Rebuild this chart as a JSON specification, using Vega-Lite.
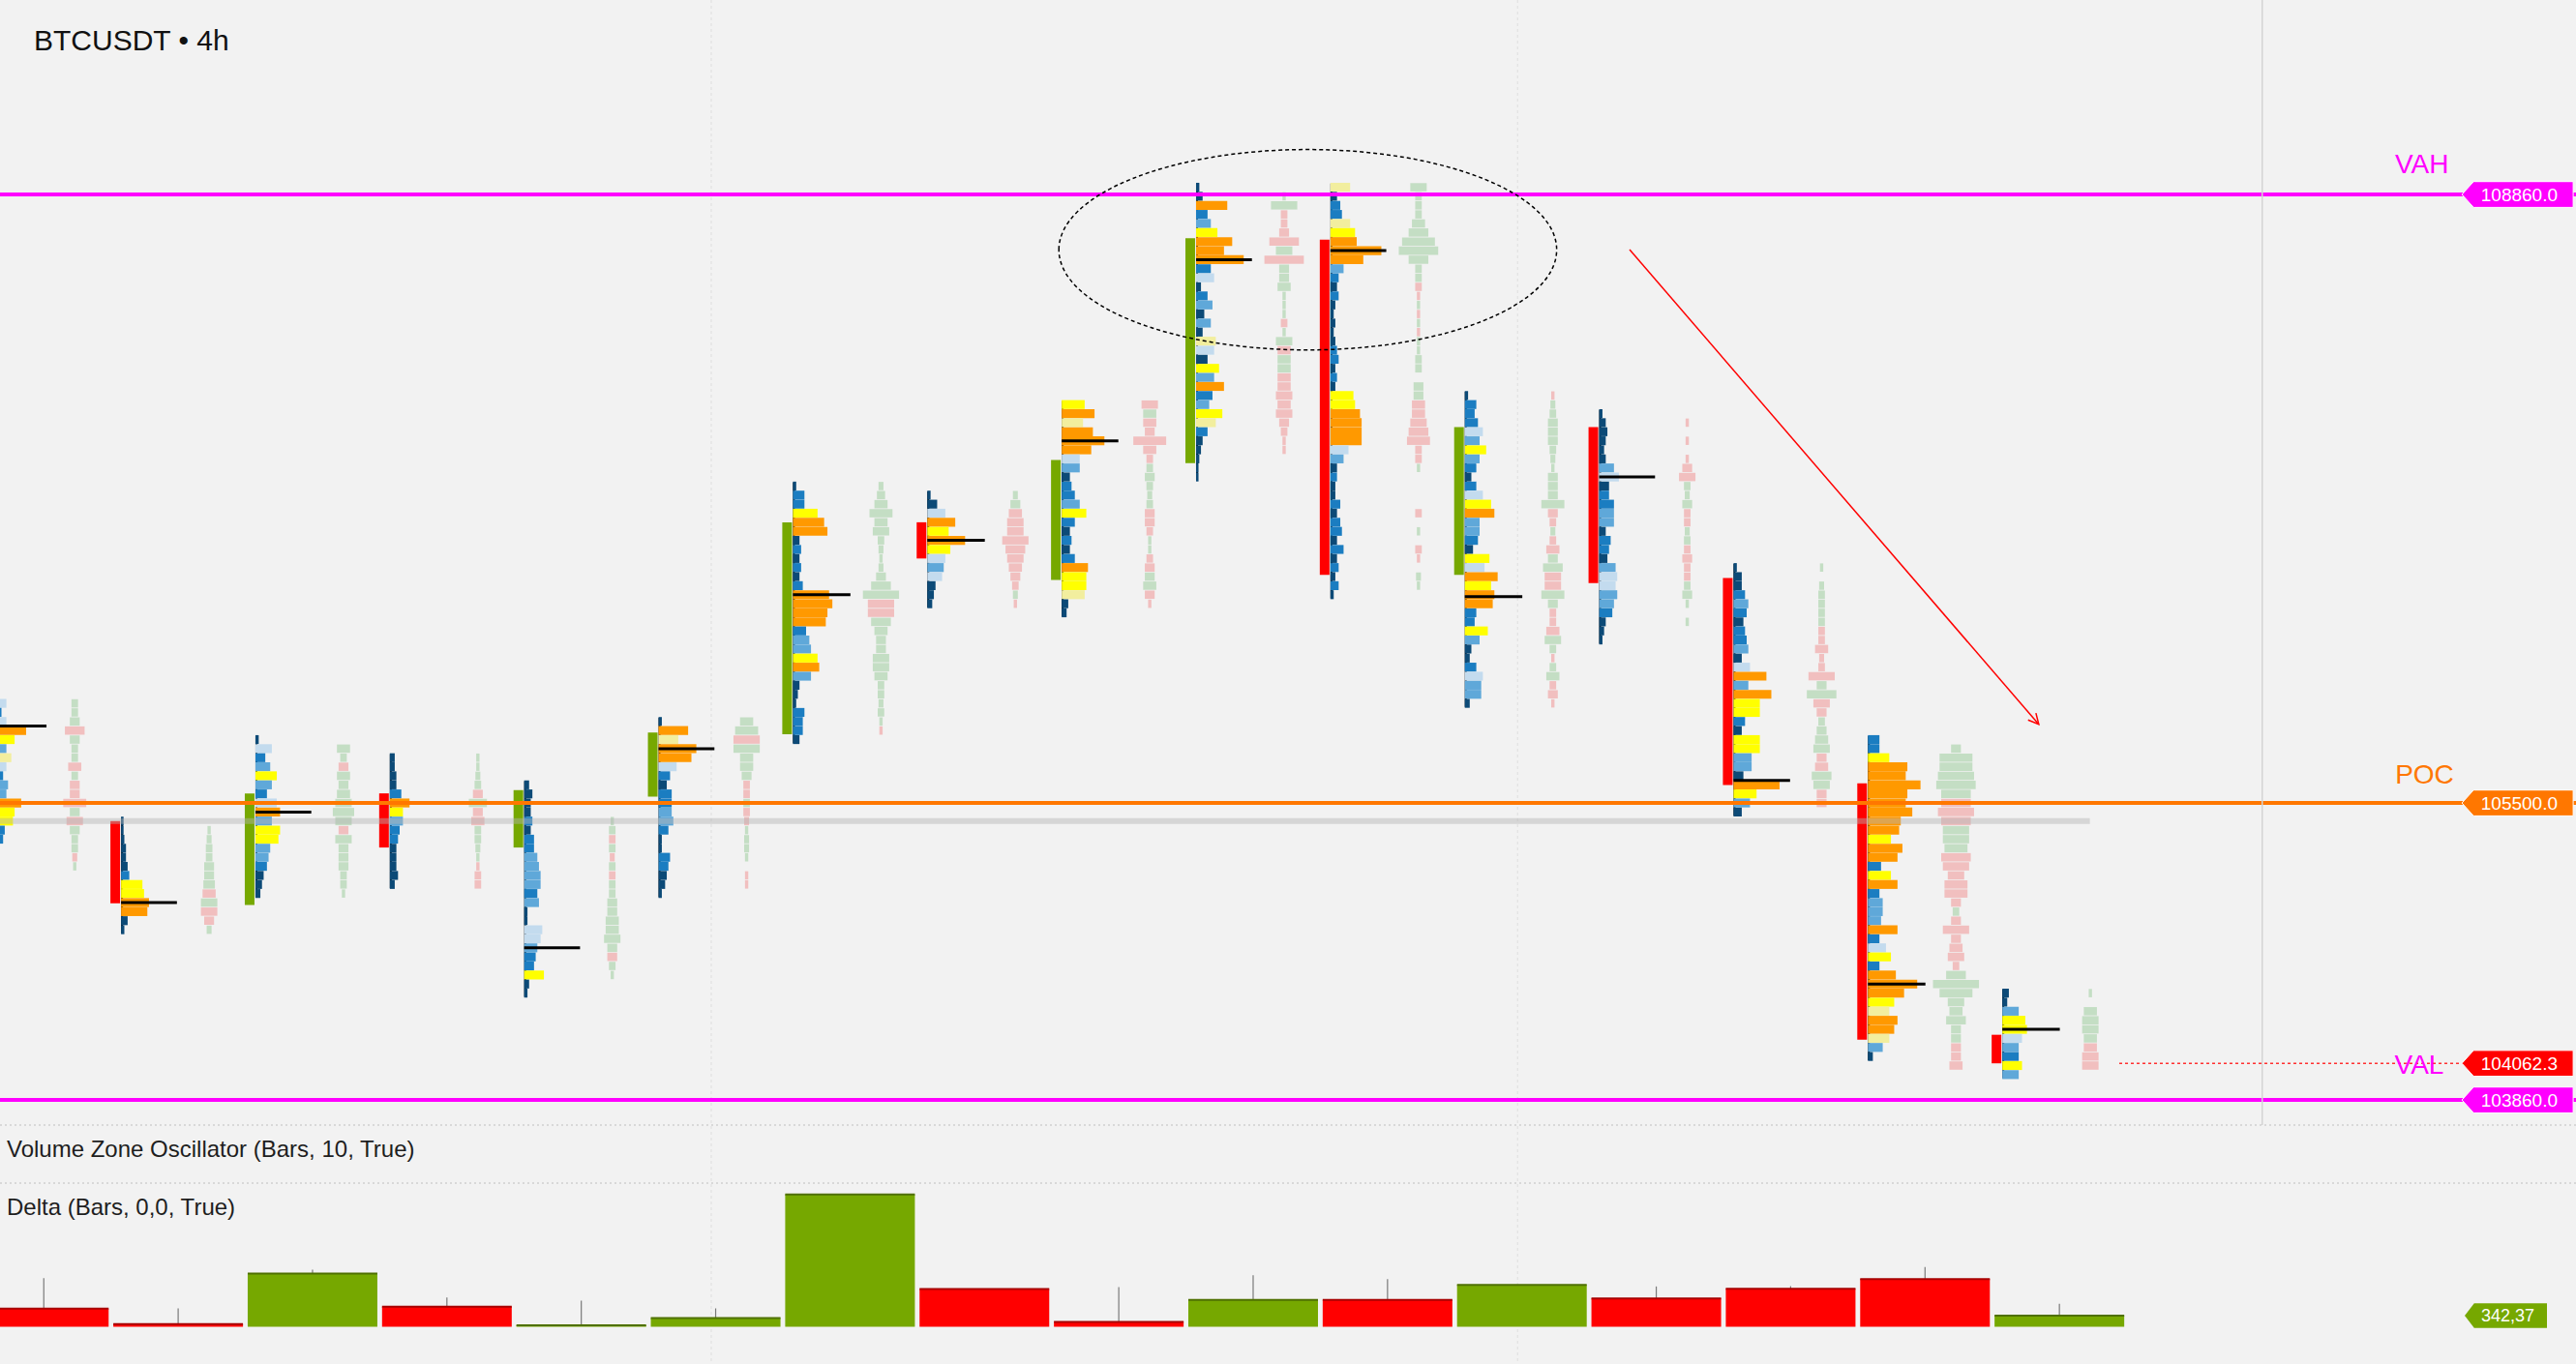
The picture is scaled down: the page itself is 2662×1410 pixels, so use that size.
{
"$schema":"https://vega.github.io/schema/vega-lite/v6.json",
"width":2662,"height":1410,
"autosize":{"type":"none"},
"padding":0,
"background":"#f2f2f2",
"config":{"view":{"stroke":null},"font":"Liberation Sans","scale":{"continuousPadding":0}},
"datasets":{
"prof":[
{"k":0,"p":106050,"w":12,"c":"P"},{"k":0,"p":106000,"w":9,"c":"B"},{"k":0,"p":105950,"w":12,"c":"P"},{"k":0,"p":105900,"w":24,"c":"O"},{"k":0,"p":105850,"w":17,"c":"Y"},{"k":0,"p":105800,"w":12,"c":"L"},{"k":0,"p":105750,"w":15,"c":"Q"},{"k":0,"p":105700,"w":12,"c":"P"},{"k":0,"p":105650,"w":10,"c":"B"},{"k":0,"p":105600,"w":13,"c":"L"},{"k":0,"p":105550,"w":12,"c":"L"},{"k":0,"p":105500,"w":21,"c":"O"},{"k":0,"p":105450,"w":17,"c":"Y"},{"k":0,"p":105400,"w":16,"c":"Y"},{"k":0,"p":105350,"w":11,"c":"B"},{"k":0,"p":105300,"w":10,"c":"B"},
{"k":1,"p":105400,"w":1.5,"c":"D"},{"k":1,"p":105350,"w":1.5,"c":"D"},{"k":1,"p":105300,"w":2,"c":"D"},{"k":1,"p":105250,"w":3,"c":"D"},{"k":1,"p":105200,"w":3,"c":"D"},{"k":1,"p":105150,"w":4,"c":"D"},{"k":1,"p":105100,"w":5,"c":"B"},{"k":1,"p":105050,"w":13,"c":"Y"},{"k":1,"p":105000,"w":14,"c":"Y"},{"k":1,"p":104950,"w":17,"c":"O"},{"k":1,"p":104900,"w":16,"c":"O"},{"k":1,"p":104850,"w":4,"c":"D"},{"k":1,"p":104800,"w":2,"c":"D"},
{"k":2,"p":105850,"w":2,"c":"D"},{"k":2,"p":105800,"w":10,"c":"P"},{"k":2,"p":105750,"w":6,"c":"B"},{"k":2,"p":105700,"w":9,"c":"L"},{"k":2,"p":105650,"w":13,"c":"Y"},{"k":2,"p":105600,"w":10,"c":"L"},{"k":2,"p":105550,"w":7,"c":"B"},{"k":2,"p":105500,"w":13,"c":"P"},{"k":2,"p":105450,"w":15,"c":"O"},{"k":2,"p":105400,"w":10,"c":"L"},{"k":2,"p":105350,"w":15,"c":"Y"},{"k":2,"p":105300,"w":14,"c":"Y"},{"k":2,"p":105250,"w":9,"c":"L"},{"k":2,"p":105200,"w":8,"c":"L"},{"k":2,"p":105150,"w":7,"c":"B"},{"k":2,"p":105100,"w":5,"c":"D"},{"k":2,"p":105050,"w":4,"c":"D"},{"k":2,"p":105000,"w":3,"c":"D"},
{"k":3,"p":105750,"w":3,"c":"D"},{"k":3,"p":105700,"w":3,"c":"D"},{"k":3,"p":105650,"w":4,"c":"D"},{"k":3,"p":105600,"w":4,"c":"D"},{"k":3,"p":105550,"w":7,"c":"B"},{"k":3,"p":105500,"w":12,"c":"O"},{"k":3,"p":105450,"w":8,"c":"Y"},{"k":3,"p":105400,"w":8,"c":"L"},{"k":3,"p":105350,"w":6,"c":"B"},{"k":3,"p":105300,"w":5,"c":"B"},{"k":3,"p":105250,"w":4,"c":"D"},{"k":3,"p":105200,"w":4,"c":"D"},{"k":3,"p":105150,"w":4,"c":"D"},{"k":3,"p":105100,"w":5,"c":"D"},{"k":3,"p":105050,"w":3,"c":"D"},
{"k":4,"p":105600,"w":3,"c":"D"},{"k":4,"p":105550,"w":5,"c":"D"},{"k":4,"p":105500,"w":4,"c":"D"},{"k":4,"p":105450,"w":4,"c":"D"},{"k":4,"p":105400,"w":5,"c":"B"},{"k":4,"p":105350,"w":4,"c":"D"},{"k":4,"p":105300,"w":6,"c":"B"},{"k":4,"p":105250,"w":6,"c":"B"},{"k":4,"p":105200,"w":8,"c":"L"},{"k":4,"p":105150,"w":9,"c":"L"},{"k":4,"p":105100,"w":10,"c":"L"},{"k":4,"p":105050,"w":10,"c":"L"},{"k":4,"p":105000,"w":8,"c":"B"},{"k":4,"p":104950,"w":9,"c":"L"},{"k":4,"p":104900,"w":2,"c":"D"},{"k":4,"p":104850,"w":2,"c":"D"},{"k":4,"p":104800,"w":11,"c":"P"},{"k":4,"p":104750,"w":10,"c":"P"},{"k":4,"p":104700,"w":8,"c":"L"},{"k":4,"p":104650,"w":7,"c":"B"},{"k":4,"p":104600,"w":6,"c":"B"},{"k":4,"p":104550,"w":12,"c":"Y"},{"k":4,"p":104500,"w":3,"c":"D"},{"k":4,"p":104450,"w":2,"c":"D"},
{"k":5,"p":105950,"w":2,"c":"D"},{"k":5,"p":105900,"w":18,"c":"O"},{"k":5,"p":105850,"w":12,"c":"Q"},{"k":5,"p":105800,"w":23,"c":"O"},{"k":5,"p":105750,"w":20,"c":"O"},{"k":5,"p":105700,"w":11,"c":"P"},{"k":5,"p":105650,"w":7,"c":"B"},{"k":5,"p":105600,"w":5,"c":"D"},{"k":5,"p":105550,"w":8,"c":"B"},{"k":5,"p":105500,"w":8,"c":"B"},{"k":5,"p":105450,"w":8,"c":"L"},{"k":5,"p":105400,"w":9,"c":"L"},{"k":5,"p":105350,"w":6,"c":"B"},{"k":5,"p":105300,"w":2,"c":"D"},{"k":5,"p":105250,"w":2,"c":"D"},{"k":5,"p":105200,"w":7,"c":"B"},{"k":5,"p":105150,"w":6,"c":"B"},{"k":5,"p":105100,"w":5,"c":"D"},{"k":5,"p":105050,"w":4,"c":"D"},{"k":5,"p":105000,"w":2,"c":"D"},
{"k":6,"p":107250,"w":2,"c":"D"},{"k":6,"p":107200,"w":7,"c":"B"},{"k":6,"p":107150,"w":7,"c":"B"},{"k":6,"p":107100,"w":15,"c":"Y"},{"k":6,"p":107050,"w":19,"c":"O"},{"k":6,"p":107000,"w":21,"c":"O"},{"k":6,"p":106950,"w":4,"c":"D"},{"k":6,"p":106900,"w":5,"c":"B"},{"k":6,"p":106850,"w":4,"c":"D"},{"k":6,"p":106800,"w":5,"c":"B"},{"k":6,"p":106750,"w":4,"c":"D"},{"k":6,"p":106700,"w":6,"c":"B"},{"k":6,"p":106650,"w":22,"c":"O"},{"k":6,"p":106600,"w":24,"c":"O"},{"k":6,"p":106550,"w":21,"c":"O"},{"k":6,"p":106500,"w":20,"c":"O"},{"k":6,"p":106450,"w":8,"c":"B"},{"k":6,"p":106400,"w":10,"c":"L"},{"k":6,"p":106350,"w":11,"c":"L"},{"k":6,"p":106300,"w":15,"c":"Y"},{"k":6,"p":106250,"w":16,"c":"O"},{"k":6,"p":106200,"w":11,"c":"L"},{"k":6,"p":106150,"w":4,"c":"D"},{"k":6,"p":106100,"w":3,"c":"D"},{"k":6,"p":106050,"w":2,"c":"D"},{"k":6,"p":106000,"w":7,"c":"B"},{"k":6,"p":105950,"w":6,"c":"B"},{"k":6,"p":105900,"w":6,"c":"B"},{"k":6,"p":105850,"w":4,"c":"D"},
{"k":7,"p":107200,"w":2,"c":"D"},{"k":7,"p":107150,"w":6,"c":"D"},{"k":7,"p":107100,"w":11,"c":"P"},{"k":7,"p":107050,"w":17,"c":"O"},{"k":7,"p":107000,"w":13,"c":"Y"},{"k":7,"p":106950,"w":23,"c":"O"},{"k":7,"p":106900,"w":14,"c":"Y"},{"k":7,"p":106850,"w":11,"c":"P"},{"k":7,"p":106800,"w":10,"c":"L"},{"k":7,"p":106750,"w":9,"c":"P"},{"k":7,"p":106700,"w":5,"c":"D"},{"k":7,"p":106650,"w":4,"c":"D"},{"k":7,"p":106600,"w":3,"c":"D"},
{"k":8,"p":107700,"w":14,"c":"Y"},{"k":8,"p":107650,"w":20,"c":"O"},{"k":8,"p":107600,"w":13,"c":"Q"},{"k":8,"p":107550,"w":19,"c":"O"},{"k":8,"p":107500,"w":26,"c":"O"},{"k":8,"p":107450,"w":18,"c":"O"},{"k":8,"p":107400,"w":11,"c":"P"},{"k":8,"p":107350,"w":11,"c":"L"},{"k":8,"p":107300,"w":5,"c":"D"},{"k":8,"p":107250,"w":6,"c":"B"},{"k":8,"p":107200,"w":8,"c":"B"},{"k":8,"p":107150,"w":11,"c":"L"},{"k":8,"p":107100,"w":15,"c":"Y"},{"k":8,"p":107050,"w":8,"c":"B"},{"k":8,"p":107000,"w":5,"c":"D"},{"k":8,"p":106950,"w":6,"c":"B"},{"k":8,"p":106900,"w":5,"c":"D"},{"k":8,"p":106850,"w":8,"c":"B"},{"k":8,"p":106800,"w":16,"c":"O"},{"k":8,"p":106750,"w":15,"c":"Y"},{"k":8,"p":106700,"w":15,"c":"Y"},{"k":8,"p":106650,"w":14,"c":"Q"},{"k":8,"p":106600,"w":4,"c":"D"},{"k":8,"p":106550,"w":3,"c":"D"},
{"k":9,"p":108900,"w":2,"c":"D"},{"k":9,"p":108850,"w":4,"c":"D"},{"k":9,"p":108800,"w":19,"c":"O"},{"k":9,"p":108750,"w":7,"c":"B"},{"k":9,"p":108700,"w":9,"c":"L"},{"k":9,"p":108650,"w":13,"c":"Y"},{"k":9,"p":108600,"w":22,"c":"O"},{"k":9,"p":108550,"w":17,"c":"O"},{"k":9,"p":108500,"w":29,"c":"O"},{"k":9,"p":108450,"w":9,"c":"B"},{"k":9,"p":108400,"w":11,"c":"P"},{"k":9,"p":108350,"w":3,"c":"D"},{"k":9,"p":108300,"w":7,"c":"B"},{"k":9,"p":108250,"w":10,"c":"L"},{"k":9,"p":108200,"w":5,"c":"D"},{"k":9,"p":108150,"w":9,"c":"L"},{"k":9,"p":108100,"w":4,"c":"D"},{"k":9,"p":108050,"w":12,"c":"Q"},{"k":9,"p":108000,"w":11,"c":"P"},{"k":9,"p":107950,"w":7,"c":"D"},{"k":9,"p":107900,"w":14,"c":"Y"},{"k":9,"p":107850,"w":11,"c":"L"},{"k":9,"p":107800,"w":17,"c":"O"},{"k":9,"p":107750,"w":10,"c":"B"},{"k":9,"p":107700,"w":8,"c":"L"},{"k":9,"p":107650,"w":16,"c":"Y"},{"k":9,"p":107600,"w":12,"c":"Q"},{"k":9,"p":107550,"w":7,"c":"B"},{"k":9,"p":107500,"w":4,"c":"D"},{"k":9,"p":107450,"w":3,"c":"D"},{"k":9,"p":107400,"w":2,"c":"D"},{"k":9,"p":107350,"w":1.5,"c":"D"},{"k":9,"p":107300,"w":1.5,"c":"D"},
{"k":10,"p":108900,"w":12,"c":"Q"},{"k":10,"p":108850,"w":4,"c":"D"},{"k":10,"p":108800,"w":6,"c":"B"},{"k":10,"p":108750,"w":7,"c":"B"},{"k":10,"p":108700,"w":12,"c":"Q"},{"k":10,"p":108650,"w":15,"c":"Y"},{"k":10,"p":108600,"w":16,"c":"O"},{"k":10,"p":108550,"w":31,"c":"O"},{"k":10,"p":108500,"w":20,"c":"O"},{"k":10,"p":108450,"w":8,"c":"L"},{"k":10,"p":108400,"w":5,"c":"B"},{"k":10,"p":108350,"w":4,"c":"D"},{"k":10,"p":108300,"w":5,"c":"B"},{"k":10,"p":108250,"w":3,"c":"D"},{"k":10,"p":108200,"w":2,"c":"D"},{"k":10,"p":108150,"w":3,"c":"D"},{"k":10,"p":108100,"w":2,"c":"D"},{"k":10,"p":108050,"w":3,"c":"D"},{"k":10,"p":108000,"w":4,"c":"B"},{"k":10,"p":107950,"w":5,"c":"B"},{"k":10,"p":107900,"w":3,"c":"D"},{"k":10,"p":107850,"w":4,"c":"B"},{"k":10,"p":107800,"w":3,"c":"D"},{"k":10,"p":107750,"w":14,"c":"Y"},{"k":10,"p":107700,"w":15,"c":"Y"},{"k":10,"p":107650,"w":18,"c":"O"},{"k":10,"p":107600,"w":19,"c":"O"},{"k":10,"p":107550,"w":19,"c":"O"},{"k":10,"p":107500,"w":19,"c":"O"},{"k":10,"p":107450,"w":11,"c":"P"},{"k":10,"p":107400,"w":8,"c":"L"},{"k":10,"p":107350,"w":4,"c":"D"},{"k":10,"p":107300,"w":4,"c":"B"},{"k":10,"p":107250,"w":3,"c":"D"},{"k":10,"p":107200,"w":3,"c":"D"},{"k":10,"p":107150,"w":6,"c":"B"},{"k":10,"p":107100,"w":4,"c":"D"},{"k":10,"p":107050,"w":6,"c":"B"},{"k":10,"p":107000,"w":7,"c":"B"},{"k":10,"p":106950,"w":4,"c":"D"},{"k":10,"p":106900,"w":8,"c":"B"},{"k":10,"p":106850,"w":4,"c":"D"},{"k":10,"p":106800,"w":5,"c":"B"},{"k":10,"p":106750,"w":3,"c":"D"},{"k":10,"p":106700,"w":5,"c":"B"},{"k":10,"p":106650,"w":2,"c":"D"},
{"k":11,"p":107750,"w":2,"c":"D"},{"k":11,"p":107700,"w":7,"c":"B"},{"k":11,"p":107650,"w":6,"c":"B"},{"k":11,"p":107600,"w":8,"c":"B"},{"k":11,"p":107550,"w":11,"c":"P"},{"k":11,"p":107500,"w":9,"c":"L"},{"k":11,"p":107450,"w":13,"c":"Y"},{"k":11,"p":107400,"w":9,"c":"L"},{"k":11,"p":107350,"w":7,"c":"B"},{"k":11,"p":107300,"w":4,"c":"D"},{"k":11,"p":107250,"w":7,"c":"B"},{"k":11,"p":107200,"w":11,"c":"P"},{"k":11,"p":107150,"w":16,"c":"Y"},{"k":11,"p":107100,"w":18,"c":"O"},{"k":11,"p":107050,"w":9,"c":"L"},{"k":11,"p":107000,"w":9,"c":"L"},{"k":11,"p":106950,"w":8,"c":"B"},{"k":11,"p":106900,"w":5,"c":"D"},{"k":11,"p":106850,"w":15,"c":"Y"},{"k":11,"p":106800,"w":12,"c":"P"},{"k":11,"p":106750,"w":20,"c":"O"},{"k":11,"p":106700,"w":16,"c":"Y"},{"k":11,"p":106650,"w":18,"c":"O"},{"k":11,"p":106600,"w":17,"c":"O"},{"k":11,"p":106550,"w":7,"c":"B"},{"k":11,"p":106500,"w":6,"c":"B"},{"k":11,"p":106450,"w":14,"c":"Y"},{"k":11,"p":106400,"w":9,"c":"L"},{"k":11,"p":106350,"w":4,"c":"D"},{"k":11,"p":106300,"w":3,"c":"D"},{"k":11,"p":106250,"w":7,"c":"B"},{"k":11,"p":106200,"w":11,"c":"P"},{"k":11,"p":106150,"w":10,"c":"L"},{"k":11,"p":106100,"w":10,"c":"L"},{"k":11,"p":106050,"w":3,"c":"D"},
{"k":12,"p":107650,"w":2,"c":"D"},{"k":12,"p":107600,"w":4,"c":"D"},{"k":12,"p":107550,"w":5,"c":"D"},{"k":12,"p":107500,"w":4,"c":"D"},{"k":12,"p":107450,"w":3,"c":"D"},{"k":12,"p":107400,"w":4,"c":"D"},{"k":12,"p":107350,"w":9,"c":"L"},{"k":12,"p":107300,"w":12,"c":"P"},{"k":12,"p":107250,"w":6,"c":"D"},{"k":12,"p":107200,"w":6,"c":"B"},{"k":12,"p":107150,"w":9,"c":"B"},{"k":12,"p":107100,"w":9,"c":"L"},{"k":12,"p":107050,"w":9,"c":"L"},{"k":12,"p":107000,"w":4,"c":"D"},{"k":12,"p":106950,"w":7,"c":"B"},{"k":12,"p":106900,"w":6,"c":"B"},{"k":12,"p":106850,"w":5,"c":"D"},{"k":12,"p":106800,"w":10,"c":"L"},{"k":12,"p":106750,"w":11,"c":"P"},{"k":12,"p":106700,"w":10,"c":"P"},{"k":12,"p":106650,"w":11,"c":"L"},{"k":12,"p":106600,"w":9,"c":"L"},{"k":12,"p":106550,"w":8,"c":"B"},{"k":12,"p":106500,"w":4,"c":"D"},{"k":12,"p":106450,"w":3,"c":"D"},{"k":12,"p":106400,"w":2,"c":"D"},
{"k":13,"p":106800,"w":2,"c":"D"},{"k":13,"p":106750,"w":5,"c":"D"},{"k":13,"p":106700,"w":5,"c":"D"},{"k":13,"p":106650,"w":7,"c":"B"},{"k":13,"p":106600,"w":9,"c":"L"},{"k":13,"p":106550,"w":8,"c":"B"},{"k":13,"p":106500,"w":6,"c":"D"},{"k":13,"p":106450,"w":7,"c":"B"},{"k":13,"p":106400,"w":8,"c":"B"},{"k":13,"p":106350,"w":9,"c":"L"},{"k":13,"p":106300,"w":5,"c":"D"},{"k":13,"p":106250,"w":10,"c":"P"},{"k":13,"p":106200,"w":20,"c":"O"},{"k":13,"p":106150,"w":9,"c":"L"},{"k":13,"p":106100,"w":23,"c":"O"},{"k":13,"p":106050,"w":16,"c":"Y"},{"k":13,"p":106000,"w":16,"c":"Y"},{"k":13,"p":105950,"w":7,"c":"B"},{"k":13,"p":105900,"w":5,"c":"D"},{"k":13,"p":105850,"w":16,"c":"Y"},{"k":13,"p":105800,"w":16,"c":"Y"},{"k":13,"p":105750,"w":11,"c":"L"},{"k":13,"p":105700,"w":11,"c":"L"},{"k":13,"p":105650,"w":6,"c":"D"},{"k":13,"p":105600,"w":28,"c":"O"},{"k":13,"p":105550,"w":14,"c":"Y"},{"k":13,"p":105500,"w":10,"c":"L"},{"k":13,"p":105450,"w":5,"c":"D"},
{"k":14,"p":105850,"w":7,"c":"B"},{"k":14,"p":105800,"w":7,"c":"B"},{"k":14,"p":105750,"w":13,"c":"Y"},{"k":14,"p":105700,"w":24,"c":"O"},{"k":14,"p":105650,"w":23,"c":"O"},{"k":14,"p":105600,"w":32,"c":"O"},{"k":14,"p":105550,"w":24,"c":"O"},{"k":14,"p":105500,"w":23,"c":"O"},{"k":14,"p":105450,"w":27,"c":"O"},{"k":14,"p":105400,"w":20,"c":"O"},{"k":14,"p":105350,"w":19,"c":"O"},{"k":14,"p":105300,"w":14,"c":"Y"},{"k":14,"p":105250,"w":21,"c":"O"},{"k":14,"p":105200,"w":18,"c":"O"},{"k":14,"p":105150,"w":8,"c":"B"},{"k":14,"p":105100,"w":14,"c":"Y"},{"k":14,"p":105050,"w":18,"c":"O"},{"k":14,"p":105000,"w":7,"c":"B"},{"k":14,"p":104950,"w":9,"c":"L"},{"k":14,"p":104900,"w":9,"c":"L"},{"k":14,"p":104850,"w":8,"c":"L"},{"k":14,"p":104800,"w":18,"c":"O"},{"k":14,"p":104750,"w":7,"c":"B"},{"k":14,"p":104700,"w":11,"c":"P"},{"k":14,"p":104650,"w":14,"c":"Y"},{"k":14,"p":104600,"w":7,"c":"B"},{"k":14,"p":104550,"w":17,"c":"O"},{"k":14,"p":104500,"w":30,"c":"O"},{"k":14,"p":104450,"w":22,"c":"O"},{"k":14,"p":104400,"w":16,"c":"Y"},{"k":14,"p":104350,"w":13,"c":"Q"},{"k":14,"p":104300,"w":18,"c":"O"},{"k":14,"p":104250,"w":16,"c":"O"},{"k":14,"p":104200,"w":13,"c":"Q"},{"k":14,"p":104150,"w":9,"c":"L"},{"k":14,"p":104100,"w":3,"c":"D"},
{"k":15,"p":104450,"w":4,"c":"D"},{"k":15,"p":104400,"w":3,"c":"D"},{"k":15,"p":104350,"w":10,"c":"L"},{"k":15,"p":104300,"w":14,"c":"Y"},{"k":15,"p":104250,"w":15,"c":"Y"},{"k":15,"p":104200,"w":12,"c":"P"},{"k":15,"p":104150,"w":10,"c":"L"},{"k":15,"p":104100,"w":10,"c":"B"},{"k":15,"p":104050,"w":12,"c":"Y"},{"k":15,"p":104000,"w":10,"c":"L"}
],
"fp":[
{"k":0,"p":106050,"w":4,"c":"g"},{"k":0,"p":106000,"w":4,"c":"g"},{"k":0,"p":105950,"w":6,"c":"g"},{"k":0,"p":105900,"w":12,"c":"r"},{"k":0,"p":105850,"w":6,"c":"g"},{"k":0,"p":105800,"w":4,"c":"g"},{"k":0,"p":105750,"w":4,"c":"g"},{"k":0,"p":105700,"w":8,"c":"r"},{"k":0,"p":105650,"w":4,"c":"g"},{"k":0,"p":105600,"w":6,"c":"r"},{"k":0,"p":105550,"w":6,"c":"r"},{"k":0,"p":105500,"w":14,"c":"r"},{"k":0,"p":105450,"w":6,"c":"g"},{"k":0,"p":105400,"w":10,"c":"r"},{"k":0,"p":105350,"w":6,"c":"g"},{"k":0,"p":105300,"w":4,"c":"g"},{"k":0,"p":105250,"w":4,"c":"g"},{"k":0,"p":105200,"w":3,"c":"r"},{"k":0,"p":105150,"w":2,"c":"g"},
{"k":1,"p":105350,"w":2,"c":"g"},{"k":1,"p":105300,"w":3,"c":"g"},{"k":1,"p":105250,"w":4,"c":"g"},{"k":1,"p":105200,"w":4,"c":"g"},{"k":1,"p":105150,"w":6,"c":"g"},{"k":1,"p":105100,"w":6,"c":"g"},{"k":1,"p":105050,"w":7,"c":"g"},{"k":1,"p":105000,"w":8,"c":"r"},{"k":1,"p":104950,"w":10,"c":"g"},{"k":1,"p":104900,"w":10,"c":"r"},{"k":1,"p":104850,"w":6,"c":"r"},{"k":1,"p":104800,"w":3,"c":"g"},
{"k":2,"p":105800,"w":8,"c":"g"},{"k":2,"p":105750,"w":4,"c":"g"},{"k":2,"p":105700,"w":6,"c":"r"},{"k":2,"p":105650,"w":8,"c":"g"},{"k":2,"p":105600,"w":6,"c":"g"},{"k":2,"p":105550,"w":8,"c":"g"},{"k":2,"p":105500,"w":10,"c":"g"},{"k":2,"p":105450,"w":13,"c":"g"},{"k":2,"p":105400,"w":10,"c":"g"},{"k":2,"p":105350,"w":6,"c":"r"},{"k":2,"p":105300,"w":10,"c":"g"},{"k":2,"p":105250,"w":6,"c":"g"},{"k":2,"p":105200,"w":6,"c":"g"},{"k":2,"p":105150,"w":6,"c":"g"},{"k":2,"p":105100,"w":4,"c":"g"},{"k":2,"p":105050,"w":4,"c":"g"},{"k":2,"p":105000,"w":2,"c":"g"},
{"k":3,"p":105750,"w":2,"c":"g"},{"k":3,"p":105700,"w":2,"c":"g"},{"k":3,"p":105650,"w":3,"c":"g"},{"k":3,"p":105600,"w":4,"c":"g"},{"k":3,"p":105550,"w":6,"c":"r"},{"k":3,"p":105500,"w":11,"c":"g"},{"k":3,"p":105450,"w":6,"c":"r"},{"k":3,"p":105400,"w":8,"c":"r"},{"k":3,"p":105350,"w":4,"c":"g"},{"k":3,"p":105300,"w":4,"c":"g"},{"k":3,"p":105250,"w":3,"c":"g"},{"k":3,"p":105200,"w":2,"c":"g"},{"k":3,"p":105150,"w":2,"c":"r"},{"k":3,"p":105100,"w":4,"c":"r"},{"k":3,"p":105050,"w":4,"c":"r"},
{"k":4,"p":105400,"w":2,"c":"g"},{"k":4,"p":105350,"w":4,"c":"g"},{"k":4,"p":105300,"w":4,"c":"r"},{"k":4,"p":105250,"w":4,"c":"g"},{"k":4,"p":105200,"w":3,"c":"r"},{"k":4,"p":105150,"w":4,"c":"g"},{"k":4,"p":105100,"w":4,"c":"r"},{"k":4,"p":105050,"w":4,"c":"g"},{"k":4,"p":105000,"w":4,"c":"g"},{"k":4,"p":104950,"w":6,"c":"g"},{"k":4,"p":104900,"w":6,"c":"g"},{"k":4,"p":104850,"w":8,"c":"g"},{"k":4,"p":104800,"w":8,"c":"g"},{"k":4,"p":104750,"w":10,"c":"g"},{"k":4,"p":104700,"w":6,"c":"g"},{"k":4,"p":104650,"w":6,"c":"r"},{"k":4,"p":104600,"w":4,"c":"g"},{"k":4,"p":104550,"w":2,"c":"g"},
{"k":5,"p":105950,"w":8,"c":"g"},{"k":5,"p":105900,"w":14,"c":"g"},{"k":5,"p":105850,"w":16,"c":"r"},{"k":5,"p":105800,"w":16,"c":"g"},{"k":5,"p":105750,"w":8,"c":"g"},{"k":5,"p":105700,"w":8,"c":"g"},{"k":5,"p":105650,"w":6,"c":"g"},{"k":5,"p":105600,"w":4,"c":"r"},{"k":5,"p":105550,"w":4,"c":"r"},{"k":5,"p":105500,"w":4,"c":"g"},{"k":5,"p":105450,"w":4,"c":"r"},{"k":5,"p":105400,"w":3,"c":"r"},{"k":5,"p":105350,"w":2,"c":"g"},{"k":5,"p":105300,"w":3,"c":"g"},{"k":5,"p":105250,"w":3,"c":"g"},{"k":5,"p":105200,"w":2,"c":"g"},{"k":5,"p":105100,"w":2,"c":"r"},{"k":5,"p":105050,"w":2,"c":"r"},
{"k":6,"p":107250,"w":3,"c":"g"},{"k":6,"p":107200,"w":5,"c":"g"},{"k":6,"p":107150,"w":8,"c":"g"},{"k":6,"p":107100,"w":14,"c":"g"},{"k":6,"p":107050,"w":8,"c":"g"},{"k":6,"p":107000,"w":10,"c":"g"},{"k":6,"p":106950,"w":4,"c":"g"},{"k":6,"p":106900,"w":3,"c":"g"},{"k":6,"p":106850,"w":2,"c":"g"},{"k":6,"p":106800,"w":3,"c":"g"},{"k":6,"p":106750,"w":6,"c":"g"},{"k":6,"p":106700,"w":12,"c":"g"},{"k":6,"p":106650,"w":22,"c":"g"},{"k":6,"p":106600,"w":16,"c":"r"},{"k":6,"p":106550,"w":16,"c":"r"},{"k":6,"p":106500,"w":12,"c":"g"},{"k":6,"p":106450,"w":8,"c":"g"},{"k":6,"p":106400,"w":6,"c":"g"},{"k":6,"p":106350,"w":6,"c":"g"},{"k":6,"p":106300,"w":10,"c":"g"},{"k":6,"p":106250,"w":10,"c":"g"},{"k":6,"p":106200,"w":8,"c":"g"},{"k":6,"p":106150,"w":4,"c":"g"},{"k":6,"p":106100,"w":4,"c":"g"},{"k":6,"p":106050,"w":3,"c":"g"},{"k":6,"p":106000,"w":4,"c":"g"},{"k":6,"p":105950,"w":2,"c":"g"},{"k":6,"p":105900,"w":2,"c":"r"},
{"k":7,"p":107200,"w":3,"c":"g"},{"k":7,"p":107150,"w":6,"c":"g"},{"k":7,"p":107100,"w":8,"c":"r"},{"k":7,"p":107050,"w":10,"c":"r"},{"k":7,"p":107000,"w":10,"c":"r"},{"k":7,"p":106950,"w":16,"c":"r"},{"k":7,"p":106900,"w":12,"c":"r"},{"k":7,"p":106850,"w":10,"c":"r"},{"k":7,"p":106800,"w":8,"c":"r"},{"k":7,"p":106750,"w":6,"c":"r"},{"k":7,"p":106700,"w":4,"c":"r"},{"k":7,"p":106650,"w":3,"c":"g"},{"k":7,"p":106600,"w":2,"c":"r"},
{"k":8,"p":107700,"w":10,"c":"r"},{"k":8,"p":107650,"w":8,"c":"g"},{"k":8,"p":107600,"w":8,"c":"r"},{"k":8,"p":107550,"w":6,"c":"r"},{"k":8,"p":107500,"w":20,"c":"r"},{"k":8,"p":107450,"w":8,"c":"r"},{"k":8,"p":107400,"w":4,"c":"r"},{"k":8,"p":107350,"w":4,"c":"g"},{"k":8,"p":107300,"w":6,"c":"g"},{"k":8,"p":107250,"w":4,"c":"g"},{"k":8,"p":107200,"w":3,"c":"g"},{"k":8,"p":107150,"w":4,"c":"g"},{"k":8,"p":107100,"w":6,"c":"r"},{"k":8,"p":107050,"w":6,"c":"r"},{"k":8,"p":107000,"w":4,"c":"r"},{"k":8,"p":106950,"w":2,"c":"g"},{"k":8,"p":106900,"w":2,"c":"g"},{"k":8,"p":106850,"w":4,"c":"r"},{"k":8,"p":106800,"w":6,"c":"r"},{"k":8,"p":106750,"w":6,"c":"g"},{"k":8,"p":106700,"w":8,"c":"g"},{"k":8,"p":106650,"w":6,"c":"r"},{"k":8,"p":106600,"w":2,"c":"r"},
{"k":9,"p":108850,"w":2,"c":"g"},{"k":9,"p":108800,"w":16,"c":"g"},{"k":9,"p":108750,"w":4,"c":"r"},{"k":9,"p":108700,"w":4,"c":"r"},{"k":9,"p":108650,"w":6,"c":"r"},{"k":9,"p":108600,"w":18,"c":"r"},{"k":9,"p":108550,"w":10,"c":"g"},{"k":9,"p":108500,"w":24,"c":"r"},{"k":9,"p":108450,"w":6,"c":"g"},{"k":9,"p":108400,"w":6,"c":"g"},{"k":9,"p":108350,"w":8,"c":"g"},{"k":9,"p":108300,"w":2,"c":"g"},{"k":9,"p":108250,"w":2,"c":"g"},{"k":9,"p":108200,"w":2,"c":"g"},{"k":9,"p":108150,"w":4,"c":"r"},{"k":9,"p":108100,"w":2,"c":"g"},{"k":9,"p":108050,"w":10,"c":"g"},{"k":9,"p":108000,"w":8,"c":"r"},{"k":9,"p":107950,"w":8,"c":"g"},{"k":9,"p":107900,"w":8,"c":"g"},{"k":9,"p":107850,"w":8,"c":"r"},{"k":9,"p":107800,"w":8,"c":"r"},{"k":9,"p":107750,"w":10,"c":"r"},{"k":9,"p":107700,"w":8,"c":"r"},{"k":9,"p":107650,"w":10,"c":"r"},{"k":9,"p":107600,"w":6,"c":"r"},{"k":9,"p":107550,"w":4,"c":"r"},{"k":9,"p":107500,"w":2,"c":"r"},{"k":9,"p":107450,"w":2,"c":"r"},
{"k":10,"p":108900,"w":10,"c":"g"},{"k":10,"p":108850,"w":4,"c":"g"},{"k":10,"p":108800,"w":4,"c":"g"},{"k":10,"p":108750,"w":4,"c":"g"},{"k":10,"p":108700,"w":8,"c":"g"},{"k":10,"p":108650,"w":12,"c":"g"},{"k":10,"p":108600,"w":20,"c":"g"},{"k":10,"p":108550,"w":24,"c":"g"},{"k":10,"p":108500,"w":12,"c":"g"},{"k":10,"p":108450,"w":4,"c":"g"},{"k":10,"p":108400,"w":4,"c":"g"},{"k":10,"p":108350,"w":4,"c":"r"},{"k":10,"p":108300,"w":2,"c":"r"},{"k":10,"p":108250,"w":2,"c":"g"},{"k":10,"p":108200,"w":2,"c":"r"},{"k":10,"p":108150,"w":2,"c":"g"},{"k":10,"p":108100,"w":2,"c":"r"},{"k":10,"p":108050,"w":2,"c":"g"},{"k":10,"p":108000,"w":2,"c":"g"},{"k":10,"p":107950,"w":4,"c":"g"},{"k":10,"p":107900,"w":4,"c":"g"},{"k":10,"p":107800,"w":6,"c":"g"},{"k":10,"p":107750,"w":6,"c":"g"},{"k":10,"p":107700,"w":8,"c":"r"},{"k":10,"p":107650,"w":8,"c":"r"},{"k":10,"p":107600,"w":10,"c":"r"},{"k":10,"p":107550,"w":12,"c":"r"},{"k":10,"p":107500,"w":14,"c":"r"},{"k":10,"p":107450,"w":4,"c":"r"},{"k":10,"p":107400,"w":4,"c":"r"},{"k":10,"p":107350,"w":2,"c":"g"},{"k":10,"p":107100,"w":4,"c":"r"},{"k":10,"p":107000,"w":2,"c":"g"},{"k":10,"p":106900,"w":4,"c":"r"},{"k":10,"p":106850,"w":2,"c":"r"},{"k":10,"p":106750,"w":3,"c":"g"},{"k":10,"p":106700,"w":2,"c":"g"},
{"k":11,"p":107750,"w":2,"c":"r"},{"k":11,"p":107700,"w":3,"c":"g"},{"k":11,"p":107650,"w":4,"c":"g"},{"k":11,"p":107600,"w":6,"c":"g"},{"k":11,"p":107550,"w":6,"c":"g"},{"k":11,"p":107500,"w":6,"c":"g"},{"k":11,"p":107450,"w":4,"c":"g"},{"k":11,"p":107400,"w":3,"c":"g"},{"k":11,"p":107350,"w":2,"c":"g"},{"k":11,"p":107300,"w":6,"c":"g"},{"k":11,"p":107250,"w":6,"c":"g"},{"k":11,"p":107200,"w":6,"c":"g"},{"k":11,"p":107150,"w":14,"c":"g"},{"k":11,"p":107100,"w":6,"c":"r"},{"k":11,"p":107050,"w":4,"c":"r"},{"k":11,"p":107000,"w":3,"c":"g"},{"k":11,"p":106950,"w":4,"c":"r"},{"k":11,"p":106900,"w":8,"c":"r"},{"k":11,"p":106850,"w":6,"c":"g"},{"k":11,"p":106800,"w":12,"c":"g"},{"k":11,"p":106750,"w":10,"c":"r"},{"k":11,"p":106700,"w":10,"c":"r"},{"k":11,"p":106650,"w":14,"c":"g"},{"k":11,"p":106600,"w":6,"c":"g"},{"k":11,"p":106550,"w":4,"c":"r"},{"k":11,"p":106500,"w":4,"c":"r"},{"k":11,"p":106450,"w":8,"c":"r"},{"k":11,"p":106400,"w":10,"c":"g"},{"k":11,"p":106350,"w":4,"c":"g"},{"k":11,"p":106300,"w":2,"c":"r"},{"k":11,"p":106250,"w":4,"c":"g"},{"k":11,"p":106200,"w":8,"c":"g"},{"k":11,"p":106150,"w":4,"c":"r"},{"k":11,"p":106100,"w":6,"c":"r"},{"k":11,"p":106050,"w":2,"c":"r"},
{"k":12,"p":107600,"w":2,"c":"r"},{"k":12,"p":107500,"w":2,"c":"r"},{"k":12,"p":107400,"w":2,"c":"r"},{"k":12,"p":107350,"w":6,"c":"r"},{"k":12,"p":107300,"w":10,"c":"r"},{"k":12,"p":107250,"w":4,"c":"g"},{"k":12,"p":107200,"w":3,"c":"g"},{"k":12,"p":107150,"w":6,"c":"g"},{"k":12,"p":107100,"w":4,"c":"r"},{"k":12,"p":107050,"w":4,"c":"r"},{"k":12,"p":107000,"w":3,"c":"g"},{"k":12,"p":106950,"w":4,"c":"g"},{"k":12,"p":106900,"w":4,"c":"r"},{"k":12,"p":106850,"w":6,"c":"r"},{"k":12,"p":106800,"w":4,"c":"r"},{"k":12,"p":106750,"w":4,"c":"r"},{"k":12,"p":106700,"w":4,"c":"g"},{"k":12,"p":106650,"w":6,"c":"g"},{"k":12,"p":106600,"w":2,"c":"g"},{"k":12,"p":106500,"w":2,"c":"g"},
{"k":13,"p":106800,"w":2,"c":"g"},{"k":13,"p":106700,"w":3,"c":"g"},{"k":13,"p":106650,"w":4,"c":"g"},{"k":13,"p":106600,"w":4,"c":"g"},{"k":13,"p":106550,"w":4,"c":"g"},{"k":13,"p":106500,"w":4,"c":"g"},{"k":13,"p":106450,"w":4,"c":"r"},{"k":13,"p":106400,"w":4,"c":"r"},{"k":13,"p":106350,"w":8,"c":"r"},{"k":13,"p":106300,"w":3,"c":"r"},{"k":13,"p":106250,"w":4,"c":"r"},{"k":13,"p":106200,"w":16,"c":"r"},{"k":13,"p":106150,"w":6,"c":"g"},{"k":13,"p":106100,"w":18,"c":"g"},{"k":13,"p":106050,"w":10,"c":"r"},{"k":13,"p":106000,"w":6,"c":"r"},{"k":13,"p":105950,"w":4,"c":"g"},{"k":13,"p":105900,"w":6,"c":"g"},{"k":13,"p":105850,"w":8,"c":"g"},{"k":13,"p":105800,"w":10,"c":"g"},{"k":13,"p":105750,"w":6,"c":"r"},{"k":13,"p":105700,"w":8,"c":"r"},{"k":13,"p":105650,"w":12,"c":"g"},{"k":13,"p":105600,"w":10,"c":"g"},{"k":13,"p":105550,"w":6,"c":"r"},{"k":13,"p":105500,"w":6,"c":"r"},
{"k":14,"p":105800,"w":6,"c":"g"},{"k":14,"p":105750,"w":20,"c":"g"},{"k":14,"p":105700,"w":20,"c":"g"},{"k":14,"p":105650,"w":22,"c":"g"},{"k":14,"p":105600,"w":24,"c":"g"},{"k":14,"p":105550,"w":18,"c":"g"},{"k":14,"p":105500,"w":18,"c":"r"},{"k":14,"p":105450,"w":22,"c":"r"},{"k":14,"p":105400,"w":18,"c":"r"},{"k":14,"p":105350,"w":16,"c":"g"},{"k":14,"p":105300,"w":16,"c":"g"},{"k":14,"p":105250,"w":14,"c":"g"},{"k":14,"p":105200,"w":18,"c":"r"},{"k":14,"p":105150,"w":16,"c":"r"},{"k":14,"p":105100,"w":10,"c":"r"},{"k":14,"p":105050,"w":14,"c":"r"},{"k":14,"p":105000,"w":14,"c":"r"},{"k":14,"p":104950,"w":6,"c":"r"},{"k":14,"p":104900,"w":4,"c":"g"},{"k":14,"p":104850,"w":6,"c":"r"},{"k":14,"p":104800,"w":16,"c":"r"},{"k":14,"p":104750,"w":6,"c":"r"},{"k":14,"p":104700,"w":8,"c":"r"},{"k":14,"p":104650,"w":10,"c":"r"},{"k":14,"p":104600,"w":4,"c":"r"},{"k":14,"p":104550,"w":12,"c":"g"},{"k":14,"p":104500,"w":28,"c":"g"},{"k":14,"p":104450,"w":20,"c":"g"},{"k":14,"p":104400,"w":10,"c":"g"},{"k":14,"p":104350,"w":8,"c":"g"},{"k":14,"p":104300,"w":12,"c":"g"},{"k":14,"p":104250,"w":6,"c":"g"},{"k":14,"p":104200,"w":6,"c":"g"},{"k":14,"p":104150,"w":6,"c":"r"},{"k":14,"p":104100,"w":6,"c":"r"},{"k":14,"p":104050,"w":8,"c":"r"},
{"k":15,"p":104450,"w":2,"c":"g"},{"k":15,"p":104350,"w":8,"c":"g"},{"k":15,"p":104300,"w":10,"c":"g"},{"k":15,"p":104250,"w":10,"c":"g"},{"k":15,"p":104200,"w":8,"c":"g"},{"k":15,"p":104150,"w":8,"c":"r"},{"k":15,"p":104100,"w":10,"c":"r"},{"k":15,"p":104050,"w":10,"c":"r"}
],
"cd":[
{"k":0,"o":105500,"c":105900,"h":106070,"l":105280,"d":"up","poc":105925,"w":36.4},
{"k":1,"o":105400,"c":104946,"h":105420,"l":104780,"d":"dn","poc":104950,"w":34},
{"k":2,"o":104937,"c":105553,"h":105870,"l":104980,"d":"up","poc":105450,"w":34},
{"k":3,"o":105553,"c":105254,"h":105770,"l":105030,"d":"dn","poc":105500,"w":34},
{"k":4,"o":105254,"c":105571,"h":105620,"l":104430,"d":"up","poc":104700,"w":34},
{"k":5,"o":105535,"c":105889,"h":105970,"l":104980,"d":"up","poc":105800,"w":34},
{"k":6,"o":105880,"c":107050,"h":107270,"l":105830,"d":"up","poc":106650,"w":35},
{"k":7,"o":107050,"c":106850,"h":107220,"l":106580,"d":"dn","poc":106950,"w":35},
{"k":8,"o":106732,"c":107394,"h":107720,"l":106530,"d":"up","poc":107500,"w":34.5},
{"k":9,"o":107376,"c":108619,"h":108920,"l":107280,"d":"up","poc":108500,"w":34},
{"k":10,"o":108610,"c":106760,"h":108920,"l":106630,"d":"dn","poc":108550,"w":34},
{"k":11,"o":106760,"c":107576,"h":107770,"l":106030,"d":"up","poc":106640,"w":35},
{"k":12,"o":107576,"c":106714,"h":107670,"l":106380,"d":"dn","poc":107300,"w":34},
{"k":13,"o":106742,"c":105599,"h":106820,"l":105430,"d":"dn","poc":105625,"w":34.4},
{"k":14,"o":105608,"c":104193,"h":105870,"l":104080,"d":"dn","poc":104500,"w":35},
{"k":15,"o":104220,"c":104062.3,"h":104470,"l":103980,"d":"dn","poc":104250,"w":35}
],
"dl":[
{"k":0,"v":557,"m":1497,"s":"dn"},{"k":1,"v":80,"m":566,"s":"dn"},{"k":2,"v":1637,"m":1756,"s":"up"},{"k":3,"v":616,"m":902,"s":"dn"},{"k":4,"v":45,"m":804,"s":"up"},{"k":5,"v":268,"m":566,"s":"up"},{"k":6,"v":4070,"m":4070,"s":"up"},{"k":7,"v":1161,"m":1161,"s":"dn"},{"k":8,"v":149,"m":1221,"s":"dn"},{"k":9,"v":825,"m":1587,"s":"up"},{"k":10,"v":825,"m":1468,"s":"dn"},{"k":11,"v":1289,"m":1289,"s":"up"},{"k":12,"v":872,"m":1241,"s":"dn"},{"k":13,"v":1170,"m":1250,"s":"dn"},{"k":14,"v":1468,"m":1837,"s":"dn"},{"k":15,"v":342.37,"m":706,"s":"up"}
]
},
"resolve":{"scale":{"y":"independent"}},
"layer":[
{"layer":[
{"data":{"values":[{"k":5.45},{"k":11.45}]},"mark":{"type":"rule","color":"#dedede","strokeDash":[3,3],"strokeWidth":1},"encoding":{"x":{"field":"k","type":"quantitative","scale":{"domain":[0.1567,19.327],"nice":false,"zero":false,"padding":0},"axis":null}}},
{"data":{"name":"fp"},"mark":{"type":"point","shape":"M -1 0 L 1 0","filled":false,"strokeWidth":8.6,"opacity":0.34,"xOffset":99,"clip":true},"encoding":{"x":{"field":"k","type":"quantitative","axis":null},"y":{"field":"p","type":"quantitative","scale":{"domain":[102402,109934],"nice":false,"zero":false,"padding":0},"axis":null},"size":{"field":"w","type":"quantitative","scale":{"type":"pow","exponent":2,"domain":[0,100],"range":[0,28822]},"legend":null},"color":{"field":"c","type":"nominal","scale":{"domain":["D","B","L","P","Q","Y","O","g","r","up","dn","mg","or","rd"],"range":["#0c4a77","#1b7dc1","#5fa8d9","#c3dbee","#f2ee9e","#ffff00","#ff9900","#6fb96f","#f06060","#76a800","#ff0000","#ff00ff","#ff7700","#ff0000"]},"legend":null}}},
{"data":{"name":"cd"},"mark":{"type":"bar","width":10,"xOffset":2,"clip":true},"encoding":{"x":{"field":"k","type":"quantitative","axis":null},"y":{"field":"o","type":"quantitative","axis":null},"y2":{"field":"c"},"color":{"field":"d","type":"nominal","legend":null}}},
{"data":{"name":"cd"},"mark":{"type":"rule","color":"#000000","strokeWidth":2,"xOffset":9,"clip":true},"encoding":{"x":{"field":"k","type":"quantitative","axis":null},"y":{"field":"h","type":"quantitative","axis":null},"y2":{"field":"l"}}},
{"data":{"name":"prof"},"mark":{"type":"point","shape":"M 0 0 L 2 0","filled":false,"strokeWidth":9.2,"opacity":1,"xOffset":8,"clip":true},"encoding":{"x":{"field":"k","type":"quantitative","axis":null},"y":{"field":"p","type":"quantitative","axis":null},"size":{"field":"w","type":"quantitative","legend":null},"color":{"field":"c","type":"nominal","legend":null}}},
{"data":{"name":"cd"},"mark":{"type":"point","shape":"M 0 0 L 2 0","filled":false,"strokeWidth":3,"opacity":1,"color":"#000000","xOffset":8,"clip":true},"encoding":{"x":{"field":"k","type":"quantitative","axis":null},"y":{"field":"poc","type":"quantitative","axis":null},"size":{"field":"w","type":"quantitative","legend":null}}},
{"data":{"values":[{"a":0.1567,"b":15.709,"p":105400}]},"mark":{"type":"rule","color":"#b4b4b4","opacity":0.45,"strokeWidth":6,"clip":true},"encoding":{"x":{"field":"a","type":"quantitative","axis":null},"x2":{"field":"b"},"y":{"field":"p","type":"quantitative","axis":null}}},
{"data":{"values":[{"p":108860,"c":"mg"},{"p":105500,"c":"or"},{"p":103860,"c":"mg"}]},"mark":{"type":"rule","strokeWidth":4,"clip":true},"encoding":{"y":{"field":"p","type":"quantitative","axis":null},"color":{"field":"c","type":"nominal","legend":null}}},
{"data":{"values":[{"a":15.928,"b":18.6,"p":104062.3}]},"mark":{"type":"rule","color":"#ff3030","strokeDash":[3,3],"strokeWidth":1.5},"encoding":{"x":{"field":"a","type":"quantitative","axis":null},"x2":{"field":"b"},"y":{"field":"p","type":"quantitative","axis":null}}},
{"data":{"values":[{"k":16.992,"a":109934,"b":103721}]},"mark":{"type":"rule","color":"#d4d4d4","strokeWidth":1.5},"encoding":{"x":{"field":"k","type":"quantitative","axis":null},"y":{"field":"a","type":"quantitative","axis":null},"y2":{"field":"b"}}},
{"data":{"values":[{"k":9.889,"p":108555}]},"mark":{"type":"point","shape":"M -1 0 C -1 -0.2224 -0.5523 -0.4027 0 -0.4027 C 0.5523 -0.4027 1 -0.2224 1 0 C 1 0.2224 0.5523 0.4027 0 0.4027 C -0.5523 0.4027 -1 0.2224 -1 0 Z","filled":false,"size":264610,"stroke":"#000000","strokeWidth":1.5,"strokeDash":[4,3],"opacity":1},"encoding":{"x":{"field":"k","type":"quantitative","axis":null},"y":{"field":"p","type":"quantitative","axis":null}}},
{"data":{"values":[{"k":12.284,"p":108555.5},{"k":15.329,"p":105934}]},"mark":{"type":"line","color":"#ff0000","strokeWidth":1.5},"encoding":{"x":{"field":"k","type":"quantitative","axis":null},"y":{"field":"p","type":"quantitative","axis":null}}},
{"data":{"values":[{"k":15.329,"p":105934}]},"mark":{"type":"point","shape":"M -0.5 1 L 0 0 L 0.5 1","filled":false,"size":460,"angle":139.2,"stroke":"#ff0000","strokeWidth":1.5,"opacity":1},"encoding":{"x":{"field":"k","type":"quantitative","axis":null},"y":{"field":"p","type":"quantitative","axis":null}}},
{"data":{"values":[{"k":18.18,"p":108977.5,"t":"VAH","c":"mg"},{"k":18.2,"p":105606.8,"t":"POC","c":"or"},{"k":18.16,"p":104004,"t":"VAL","c":"mg"}]},"mark":{"type":"text","fontSize":28,"align":"center","baseline":"alphabetic"},"encoding":{"x":{"field":"k","type":"quantitative","axis":null},"y":{"field":"p","type":"quantitative","axis":null},"text":{"field":"t"},"color":{"field":"c","type":"nominal","legend":null}}},
{"data":{"values":[{"p":108860,"c":"mg"},{"p":105500,"c":"or"},{"p":104062.3,"c":"rd"},{"p":103860,"c":"mg"}]},"mark":{"type":"point","shape":"M -1 0 L -0.79 -0.232 L 1 -0.232 L 1 0.232 L -0.79 0.232 Z","filled":true,"size":13225,"opacity":1,"stroke":"#ffffff","strokeWidth":1},"encoding":{"x":{"datum":18.892,"type":"quantitative","axis":null},"y":{"field":"p","type":"quantitative","axis":null},"color":{"field":"c","type":"nominal","legend":null}}},
{"data":{"values":[{"p":108860,"t":"108860.0"},{"p":105500,"t":"105500.0"},{"p":104062.3,"t":"104062.3"},{"p":103860,"t":"103860.0"}]},"mark":{"type":"text","fontSize":19,"align":"center","baseline":"middle","color":"#ffffff","dy":1},"encoding":{"x":{"datum":18.905,"type":"quantitative","axis":null},"y":{"field":"p","type":"quantitative","axis":null},"text":{"field":"t"}}},
{"data":{"values":[{"k":0.409,"p":109656,"t":"BTCUSDT • 4h"}]},"mark":{"type":"text","fontSize":30,"align":"left","baseline":"alphabetic","color":"#111111"},"encoding":{"x":{"field":"k","type":"quantitative","axis":null},"y":{"field":"p","type":"quantitative","axis":null},"text":{"field":"t"}}}
]},
{"layer":[
{"data":{"values":[{"v":6207},{"v":4421}]},"mark":{"type":"rule","color":"#cfcfcf","strokeDash":[2,3],"strokeWidth":1.5},"encoding":{"y":{"field":"v","type":"quantitative","scale":{"domain":[-1146,40830],"nice":false,"zero":false,"padding":0},"axis":null}}},
{"data":{"name":"dl"},"mark":{"type":"bar","width":134,"xOffset":67,"clip":true},"encoding":{"x":{"field":"k","type":"quantitative","axis":null},"y":{"field":"v","type":"quantitative","axis":null},"y2":{"datum":0},"color":{"field":"s","type":"nominal","legend":null}}},
{"data":{"name":"dl"},"mark":{"type":"rule","color":"#7a7a7a","strokeWidth":1.2,"xOffset":67,"clip":true},"encoding":{"x":{"field":"k","type":"quantitative","axis":null},"y":{"field":"v","type":"quantitative","axis":null},"y2":{"field":"m"}}},
{"data":{"name":"dl"},"mark":{"type":"point","shape":"M -1 0 L 1 0","filled":false,"size":17956,"strokeWidth":2,"opacity":1,"xOffset":67,"clip":true},"encoding":{"x":{"field":"k","type":"quantitative","axis":null},"y":{"field":"v","type":"quantitative","axis":null},"stroke":{"field":"s","type":"nominal","scale":{"domain":["up","dn"],"range":["#4f7000","#a80000"]},"legend":null}}},
{"data":{"values":[{"k":0.207,"v":5225,"t":"Volume Zone Oscillator (Bars, 10, True)"},{"k":0.207,"v":3453,"t":"Delta (Bars, 0,0, True)"}]},"mark":{"type":"text","fontSize":24,"align":"left","baseline":"alphabetic","color":"#1e1e1e"},"encoding":{"x":{"field":"k","type":"quantitative","axis":null},"y":{"field":"v","type":"quantitative","axis":null},"text":{"field":"t"}}},
{"data":{"values":[{"v":342.37}]},"mark":{"type":"point","shape":"M -1 0 L -0.77 -0.3 L 1 -0.3 L 1 0.3 L -0.77 0.3 Z","filled":true,"size":7225,"opacity":1,"color":"#76a800"},"encoding":{"x":{"datum":18.805,"type":"quantitative","axis":null},"y":{"field":"v","type":"quantitative","axis":null}}},
{"data":{"values":[{"v":342.37,"t":"342,37"}]},"mark":{"type":"text","fontSize":18,"align":"center","baseline":"middle","color":"#ffffff","dy":1},"encoding":{"x":{"datum":18.82,"type":"quantitative","axis":null},"y":{"field":"v","type":"quantitative","axis":null},"text":{"field":"t"}}}
]}
]
}
